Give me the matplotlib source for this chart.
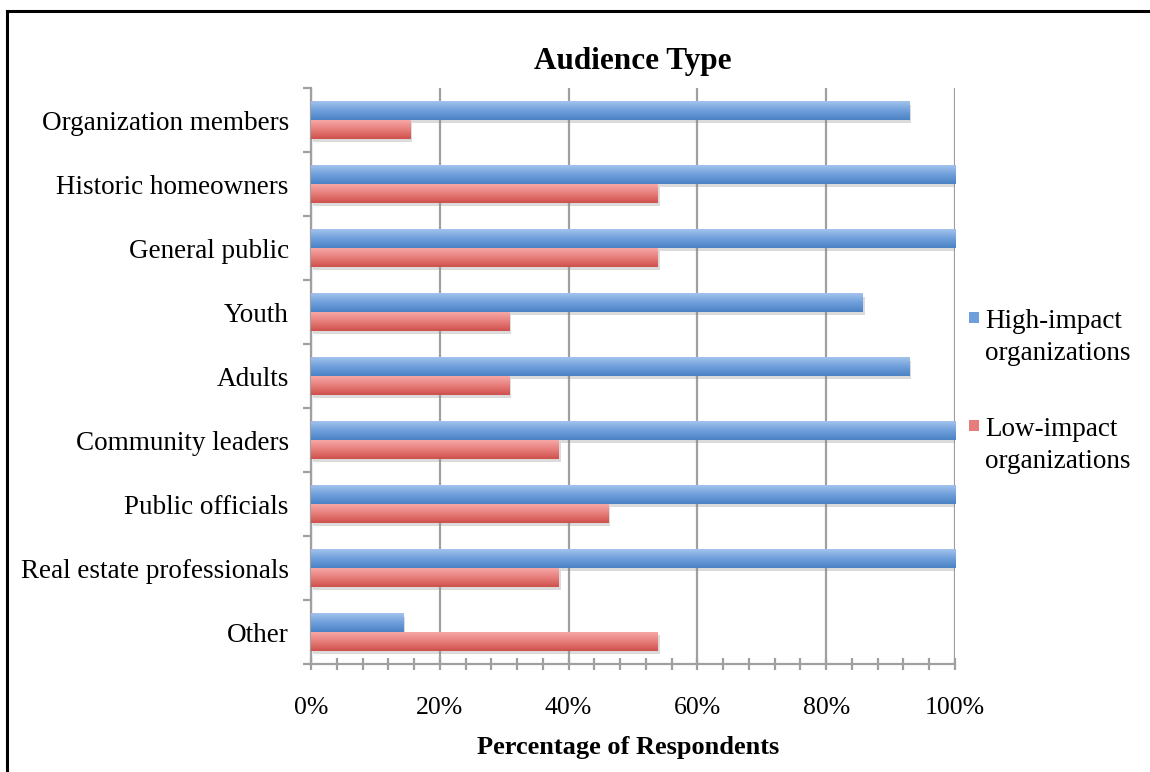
import numpy as np
import matplotlib
matplotlib.use("Agg")
import matplotlib.pyplot as plt
from matplotlib.colors import LinearSegmentedColormap
from matplotlib.patches import Rectangle
from matplotlib.lines import Line2D
import matplotlib.patheffects as pe

categories = ["Organization members", "Historic homeowners", "General public",
              "Youth", "Adults", "Community leaders", "Public officials",
              "Real estate professionals", "Other"]
high_impact = [92.86, 100, 100, 85.71, 92.86, 100, 100, 100, 14.29]
low_impact = [15.38, 53.85, 53.85, 30.77, 30.77, 38.46, 46.15, 38.46, 53.85]
series_labels = ["High-impact\norganizations", "Low-impact\norganizations"]
x_ticks = [0, 20, 40, 60, 80, 100]

plt.rcParams["font.family"] = ["Liberation Serif", "DejaVu Serif"]

BLUE_STOPS = ["#a3c3ec", "#6f9fdb", "#4b82c4"]
RED_STOPS = ["#f6a8a6", "#e77d7a", "#cf514d"]
GRID = "#a0a0a0"


def gradient_bars(ax, y, values, height, stops):
    cmap = LinearSegmentedColormap.from_list("grad", stops)
    grad = np.linspace(0, 1, 64).reshape(-1, 1)
    bars = ax.barh(y, values, height=height, color=stops[1], linewidth=0, zorder=3)
    for bar in bars:
        bar.set_path_effects([pe.SimplePatchShadow(offset=(1.5, -2.5), shadow_rgbFace="#888888", alpha=0.3),
                              pe.Normal()])
        x0, y0 = bar.get_x(), bar.get_y()
        w, h = bar.get_width(), bar.get_height()
        img = ax.imshow(grad, cmap=cmap, aspect="auto", origin="upper",
                        extent=(x0, x0 + w, y0 + h, y0), zorder=4, interpolation="bilinear")
        img.set_clip_path(bar)
    return bars


fig = plt.figure(figsize=(11.5, 7.72), dpi=100)
ax = fig.add_axes([311 / 1150, 108 / 772, 644 / 1150, 576 / 772])

y = np.arange(len(categories))
h = 0.29
gradient_bars(ax, y - h / 2, high_impact, h, BLUE_STOPS)
gradient_bars(ax, y + h / 2, low_impact, h, RED_STOPS)

ax.set_xlim(0, 100)
ax.set_ylim(len(categories) - 0.5, -0.5)

ax.set_xticks(x_ticks)
ax.set_xticklabels([f"{v}%" for v in x_ticks])
ax.set_xticks(np.arange(0, 101, 4), minor=True)
ax.set_yticks(y)
ax.set_yticklabels(categories)
ax.set_yticks(np.arange(-0.5, len(categories), 1), minor=True)

ax.grid(axis="x", which="major", color=GRID, linewidth=1.6, zorder=1)
for side in ("top", "right"):
    ax.spines[side].set_visible(False)
for side in ("left", "bottom"):
    ax.spines[side].set_color(GRID)
    ax.spines[side].set_linewidth(1.6)

ax.tick_params(axis="x", which="both", direction="inout", length=9, width=1.6,
               color=GRID, labelsize=18.5, pad=19)
ax.tick_params(axis="y", which="major", length=0, labelsize=19.5, pad=16)
ax.tick_params(axis="y", which="minor", direction="out", length=6, width=1.6, color=GRID)

ax.set_title("Audience Type", fontsize=22.5, fontweight="bold", pad=14)
ax.set_xlabel("Percentage of Respondents", fontsize=19, fontweight="bold")
ax.xaxis.set_label_coords(0.492, -0.125)

# legend, laid out by hand to the right of the plot
for label, color, ytop in zip(series_labels, [BLUE_STOPS[1], RED_STOPS[1]], [309, 417]):
    fig.patches.append(Rectangle((969 / 1150, 1 - (ytop + 14) / 772), 10 / 1150, 11 / 772,
                                 transform=fig.transFigure, facecolor=color,
                                 edgecolor="none", figure=fig))
    fig.text(985 / 1150, 1 - ytop / 772, label, fontsize=19.5, va="top", ha="left",
             linespacing=1.35)

# frame around the chart (top and left edges visible)
fig.add_artist(Line2D([6.5 / 1150, 6.5 / 1150], [0, 1 - 10.5 / 772], color="black",
                      linewidth=2.2, transform=fig.transFigure))
fig.add_artist(Line2D([6.5 / 1150, 1], [1 - 10.5 / 772, 1 - 10.5 / 772], color="black",
                      linewidth=2.2, transform=fig.transFigure))

fig.savefig("out.png", dpi=100)
